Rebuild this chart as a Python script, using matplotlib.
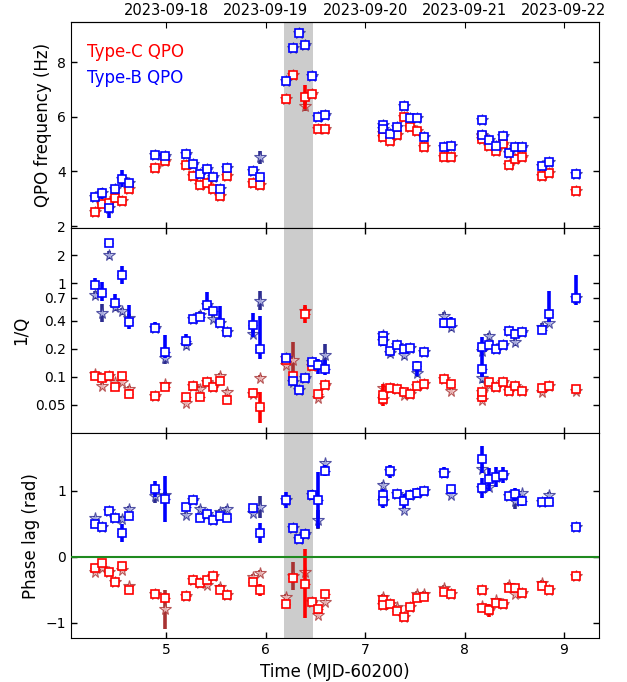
import numpy as np
import matplotlib
matplotlib.use("Agg")
import matplotlib.pyplot as plt

nan = np.nan

# Observation times (MJD-60200)
t = [4.28, 4.35, 4.42, 4.48, 4.55, 4.62,
     4.89, 4.99,
     5.20, 5.27, 5.34, 5.41, 5.47, 5.54, 5.61,
     5.87, 5.94,
     6.20, 6.27, 6.33, 6.40, 6.47, 6.53, 6.60,
     7.175, 7.18, 7.25, 7.32, 7.39, 7.45, 7.52, 7.59,
     7.79, 7.86,
     8.175, 8.18, 8.25, 8.32, 8.39, 8.45, 8.51, 8.58,
     8.78, 8.85,
     9.12]

# ---- QPO frequency (Hz) ----
freq_C = [2.53, 2.81, 2.86, 3.04, 2.92, 3.35,
          4.14, 4.37,
          4.24, 3.84, 3.50, 3.59, 3.37, 3.10, 3.84,
          3.57, 3.51,
          6.64, 7.54, nan, 6.72, 6.82, 5.55, 5.55,
          5.39, 5.25, 5.13, 5.33, 5.98, 5.64, 5.49, 4.90,
          4.51, 4.51,
          5.30, 5.19, 4.94, 4.76, 5.00, 4.24, 4.45, 4.54,
          3.84, 3.96,
          3.29]
freq_C_err = [0.08, 0.08, 0.08, 0.08, 0.08, 0.08,
              0.08, 0.08,
              0.08, 0.08, 0.08, 0.08, 0.08, 0.08, 0.08,
              0.08, 0.08,
              0.08, 0.08, nan, 0.45, 0.08, 0.08, 0.08,
              0.08, 0.08, 0.08, 0.08, 0.08, 0.08, 0.08, 0.08,
              0.08, 0.08,
              0.08, 0.08, 0.08, 0.08, 0.08, 0.08, 0.08, 0.08,
              0.08, 0.08,
              0.08]
freq_C_star = [2.53, 2.81, 2.86, 3.04, 2.92, 3.35,
               4.14, 4.37,
               4.24, 3.84, 3.50, 3.59, 3.37, 3.10, 3.84,
               3.57, 3.51,
               6.64, 7.54, nan, 6.41, 6.82, 5.55, 5.55,
               5.39, 5.25, 5.13, 5.33, 5.98, 5.64, 5.49, 4.90,
               4.51, 4.51,
               5.30, 5.19, 4.94, 4.76, 5.00, 4.24, 4.45, 4.54,
               3.84, 3.96,
               3.29]
freq_C_star_err = [0.08, 0.08, 0.08, 0.08, 0.08, 0.08,
                   0.08, 0.08,
                   0.08, 0.08, 0.08, 0.08, 0.08, 0.08, 0.08,
                   0.08, 0.08,
                   0.08, 0.08, nan, 0.2, 0.08, 0.08, 0.08,
                   0.08, 0.08, 0.08, 0.08, 0.08, 0.08, 0.08, 0.08,
                   0.08, 0.08,
                   0.08, 0.08, 0.08, 0.08, 0.08, 0.08, 0.08, 0.08,
                   0.08, 0.08,
                   0.08]
freq_B = [3.08, 3.20, 2.65, 3.37, 3.74, 3.57,
          4.59, 4.57,
          4.63, 4.27, 3.90, 4.08, 3.81, 3.37, 4.12,
          4.02, 3.78,
          7.31, 8.53, 9.08, 8.62, 7.49, 5.98, 6.07,
          5.70, 5.55, 5.37, 5.62, 6.39, 5.95, 5.96, 5.27,
          4.88, 4.94,
          5.88, 5.35, 5.16, 4.94, 5.31, 4.66, 4.90, 4.88,
          4.21, 4.33,
          3.90]
freq_B_err = [0.08, 0.20, 0.35, 0.08, 0.30, 0.08,
              0.08, 0.08,
              0.08, 0.08, 0.08, 0.08, 0.08, 0.08, 0.08,
              0.08, 0.08,
              0.08, 0.08, 0.08, 0.08, 0.08, 0.08, 0.08,
              0.08, 0.08, 0.08, 0.08, 0.08, 0.08, 0.08, 0.08,
              0.08, 0.08,
              0.08, 0.08, 0.08, 0.08, 0.08, 0.08, 0.08, 0.08,
              0.08, 0.08,
              0.08]
freq_B_star = [3.08, 3.20, 2.65, 3.37, 3.74, 3.57,
               4.59, 4.57,
               4.63, 4.27, 3.90, 4.08, 3.81, 3.37, 4.12,
               4.02, 4.51,
               7.31, 8.53, 9.08, 8.62, 7.49, 5.98, 6.07,
               5.70, 5.55, 5.37, 5.62, 6.39, 5.95, 5.96, 5.27,
               4.88, 4.94,
               5.88, 5.35, 5.16, 4.94, 5.31, 4.66, 4.90, 4.88,
               4.21, 4.33,
               3.90]
freq_B_star_err = [0.08, 0.08, 0.08, 0.08, 0.08, 0.08,
                   0.08, 0.08,
                   0.08, 0.08, 0.08, 0.08, 0.08, 0.08, 0.08,
                   0.08, 0.25,
                   0.08, 0.08, 0.08, 0.08, 0.08, 0.08, 0.08,
                   0.08, 0.08, 0.08, 0.08, 0.08, 0.08, 0.08, 0.08,
                   0.08, 0.08,
                   0.08, 0.08, 0.08, 0.08, 0.08, 0.08, 0.08, 0.08,
                   0.08, 0.08,
                   0.08]

# ---- 1/Q (errors in dex) ----
invQ_C = [0.102, 0.098, 0.103, 0.077, 0.102, 0.066,
          0.062, 0.077,
          0.061, 0.080, 0.060, 0.087, 0.078, 0.090, 0.057,
          0.067, 0.047,
          0.150, 0.103, nan, 0.47, 0.130, 0.066, 0.081,
          0.058, 0.064, 0.075, 0.074, 0.069, 0.066, 0.080, 0.083,
          0.094, 0.083,
          0.060, 0.068, 0.087, 0.078, 0.088, 0.070, 0.080, 0.070,
          0.075, 0.080,
          0.074]
invQ_C_dex = [0.03, 0.03, 0.03, 0.03, 0.03, 0.05,
              0.03, 0.04,
              0.03, 0.03, 0.03, 0.03, 0.03, 0.03, 0.03,
              0.03, 0.17,
              0.03, 0.03, nan, 0.10, 0.03, 0.03, 0.03,
              0.03, 0.12, 0.03, 0.03, 0.03, 0.03, 0.03, 0.03,
              0.03, 0.03,
              0.05, 0.03, 0.03, 0.03, 0.03, 0.03, 0.03, 0.03,
              0.03, 0.03,
              0.03]
invQ_C_star = [0.107, 0.080, 0.103, 0.087, 0.088, 0.074,
               0.062, 0.083,
               0.053, 0.080, 0.074, 0.087, 0.078, 0.103, 0.069,
               0.066, 0.097,
               0.133, 0.150, nan, 0.50, 0.130, 0.059, 0.081,
               0.058, 0.075, 0.075, 0.074, 0.064, 0.066, 0.080, 0.083,
               0.094, 0.071,
               0.057, 0.068, 0.082, 0.078, 0.088, 0.070, 0.080, 0.070,
               0.068, 0.080,
               0.070]
invQ_C_star_dex = [0.03, 0.03, 0.03, 0.03, 0.03, 0.03,
                   0.03, 0.03,
                   0.03, 0.03, 0.03, 0.03, 0.03, 0.03, 0.03,
                   0.03, 0.03,
                   0.03, 0.20, nan, 0.05, 0.03, 0.03, 0.03,
                   0.03, 0.03, 0.03, 0.03, 0.03, 0.03, 0.03, 0.03,
                   0.03, 0.03,
                   0.03, 0.03, 0.03, 0.03, 0.03, 0.03, 0.03, 0.03,
                   0.03, 0.03,
                   0.03]
invQ_B = [0.96, 0.78, 2.73, 0.61, 1.23, 0.385,
          0.335, 0.185,
          0.24, 0.42, 0.44, 0.59, 0.50, 0.375, 0.30,
          0.36, 0.20,
          0.157, 0.090, 0.073, 0.098, 0.145, 0.133, 0.122,
          0.27, 0.24, 0.19, 0.22, 0.20, 0.204, 0.13, 0.184,
          0.375, 0.378,
          0.21, 0.12, 0.22, 0.20, 0.22, 0.31, 0.29, 0.30,
          0.32, 0.47,
          0.70]
invQ_B_up = [0.07, 0.12, 0.04, 0.10, 0.10, 0.18,
             0.06, 0.18,
             0.08, 0.04, 0.04, 0.14, 0.04, 0.18, 0.04,
             0.13, 0.35,
             0.04, 0.04, 0.04, 0.04, 0.04, 0.07, 0.09,
             0.05, 0.05, 0.04, 0.04, 0.04, 0.04, 0.05, 0.04,
             0.05, 0.06,
             0.10, 0.19, 0.04, 0.04, 0.04, 0.04, 0.04, 0.04,
             0.04, 0.25,
             0.24]
invQ_B_dn = [0.04, 0.08, 0.04, 0.04, 0.10, 0.07,
             0.05, 0.07,
             0.05, 0.04, 0.04, 0.06, 0.04, 0.03, 0.04,
             0.13, 0.11,
             0.04, 0.04, 0.04, 0.04, 0.04, 0.09, 0.07,
             0.05, 0.05, 0.04, 0.04, 0.04, 0.04, 0.11, 0.04,
             0.05, 0.06,
             0.06, 0.08, 0.04, 0.04, 0.04, 0.04, 0.04, 0.04,
             0.04, 0.09,
             0.08]
invQ_B_star = [0.75, 0.48, 2.00, 0.555, 0.50, 0.43,
               0.335, 0.160,
               0.217, 0.42, 0.46, 0.59, 0.42, 0.375, 0.30,
               0.29, 0.65,
               0.157, 0.087, 0.073, 0.098, 0.145, 0.133, 0.170,
               0.28, 0.24, 0.18, 0.22, 0.17, 0.204, 0.11, 0.184,
               0.45, 0.34,
               0.19, 0.097, 0.27, 0.20, 0.22, 0.31, 0.236, 0.30,
               0.34, 0.38,
               0.70]
invQ_B_star_dex = [0.04, 0.10, 0.04, 0.04, 0.04, 0.04,
                   0.04, 0.07,
                   0.04, 0.04, 0.04, 0.04, 0.04, 0.04, 0.04,
                   0.04, 0.10,
                   0.04, 0.04, 0.04, 0.04, 0.04, 0.04, 0.12,
                   0.04, 0.04, 0.04, 0.04, 0.04, 0.04, 0.04, 0.04,
                   0.04, 0.04,
                   0.04, 0.05, 0.04, 0.04, 0.04, 0.04, 0.04, 0.04,
                   0.04, 0.04,
                   0.04]

# ---- Phase lag (rad) ----
lag_C = [-0.18, -0.09, -0.24, -0.38, -0.14, -0.51,
         -0.57, -0.63,
         -0.60, -0.36, -0.40, -0.36, -0.30, -0.51, -0.58,
         -0.39, -0.51,
         -0.72, -0.32, nan, -0.41, -0.68, -0.80, -0.57,
         -0.66, -0.73, -0.71, -0.82, -0.92, -0.77, -0.63, -0.61,
         -0.53, -0.57,
         -0.51, -0.78, -0.81, -0.70, -0.72, -0.48, -0.47, -0.55,
         -0.44, -0.51,
         -0.29]
lag_C_err = [0.04, 0.04, 0.04, 0.04, 0.04, 0.04,
             0.04, 0.06,
             0.04, 0.04, 0.04, 0.04, 0.04, 0.04, 0.04,
             0.04, 0.09,
             0.06, 0.05, nan, 0.52, 0.06, 0.05, 0.04,
             0.04, 0.04, 0.04, 0.04, 0.04, 0.04, 0.04, 0.04,
             0.04, 0.04,
             0.04, 0.04, 0.10, 0.04, 0.04, 0.04, 0.04, 0.04,
             0.04, 0.04,
             0.04]
lag_C_star = [-0.23, -0.18, -0.24, -0.38, -0.20, -0.45,
              -0.57, -0.80,
              -0.60, -0.36, -0.40, -0.43, -0.30, -0.46, -0.58,
              -0.31, -0.25,
              -0.61, -0.29, nan, -0.24, -0.68, -0.88, -0.69,
              -0.61, -0.73, -0.71, -0.77, -0.92, -0.77, -0.56, -0.56,
              -0.47, -0.57,
              -0.51, -0.75, -0.81, -0.66, -0.72, -0.43, -0.56, -0.55,
              -0.40, -0.51,
              -0.29]
lag_C_star_err = [0.04, 0.04, 0.04, 0.04, 0.04, 0.04,
                  0.04, 0.30,
                  0.04, 0.04, 0.04, 0.04, 0.04, 0.04, 0.04,
                  0.04, 0.04,
                  0.04, 0.21, nan, 0.04, 0.04, 0.04, 0.04,
                  0.04, 0.04, 0.04, 0.04, 0.04, 0.04, 0.04, 0.04,
                  0.04, 0.04,
                  0.04, 0.04, 0.04, 0.04, 0.04, 0.04, 0.04, 0.04,
                  0.04, 0.04,
                  0.04]
lag_B = [0.49, 0.45, 0.69, 0.58, 0.36, 0.62,
         1.02, 0.87,
         0.75, 0.86, 0.58, 0.65, 0.56, 0.62, 0.58,
         0.73, 0.36,
         0.85, 0.44, 0.26, 0.34, 0.93, 0.86, 1.30,
         0.93, 0.84, 1.29, 0.95, 0.84, 0.93, 0.96, 0.99,
         1.27, 1.02,
         1.47, 1.04, 1.17, 1.20, 1.23, 0.92, 0.94, 0.84,
         0.83, 0.82,
         0.45]
lag_B_err = [0.04, 0.05, 0.04, 0.04, 0.14, 0.04,
             0.12, 0.35,
             0.05, 0.06, 0.04, 0.05, 0.05, 0.05, 0.04,
             0.07, 0.15,
             0.12, 0.04, 0.04, 0.04, 0.08, 0.42, 0.08,
             0.10, 0.10, 0.10, 0.05, 0.10, 0.08, 0.08, 0.06,
             0.08, 0.06,
             0.20, 0.15, 0.17, 0.15, 0.12, 0.06, 0.10, 0.08,
             0.05, 0.05,
             0.05]
lag_B_star = [0.58, 0.45, 0.69, 0.58, 0.57, 0.72,
              0.91, 0.93,
              0.63, 0.86, 0.72, 0.65, 0.56, 0.68, 0.72,
              0.66, 0.75,
              0.85, 0.44, 0.26, 0.34, 0.93, 0.56, 1.41,
              1.09, 0.84, 1.29, 0.95, 0.71, 0.93, 0.96, 0.99,
              1.27, 0.93,
              1.32, 1.04, 1.06, 1.20, 1.23, 0.92, 0.84, 0.96,
              0.83, 0.93,
              0.45]
lag_B_star_err = [0.04, 0.04, 0.04, 0.04, 0.04, 0.04,
                  0.10, 0.04,
                  0.04, 0.04, 0.04, 0.04, 0.04, 0.04, 0.04,
                  0.04, 0.17,
                  0.04, 0.04, 0.04, 0.04, 0.04, 0.15, 0.04,
                  0.04, 0.04, 0.04, 0.04, 0.04, 0.04, 0.04, 0.04,
                  0.04, 0.04,
                  0.04, 0.04, 0.04, 0.04, 0.04, 0.04, 0.12, 0.04,
                  0.04, 0.04,
                  0.04]

time_halfwidth = 0.045
band = (6.184, 6.473)
date_ticks = [5, 6, 7, 8, 9]
date_labels = ["2023-09-18", "2023-09-19", "2023-09-20", "2023-09-21", "2023-09-22"]
invq_ticks = [0.05, 0.1, 0.2, 0.4, 0.7, 1, 2]
invq_labels = ["0.05", "0.1", "0.2", "0.4", "0.7", "1", "2"]

RED, BLUE = "#ff0000", "#0000ff"
RED_STAR_E, RED_STAR_F = "#a83232", "#f5d0d0"
BLUE_STAR_E, BLUE_STAR_F = "#2c2c90", "#c4c8ee"

fig = plt.figure(figsize=(6.27, 6.82), dpi=100)
L, W = 71 / 627, 528 / 627
H = 0.3010
ax0 = fig.add_axes([L, 0.0641 + 2 * H, W, H])
ax1 = fig.add_axes([L, 0.0641 + H, W, H], sharex=ax0)
ax2 = fig.add_axes([L, 0.0641, W, H], sharex=ax0)

tt = np.array(t)


def to_arr(v):
    return np.array(v, dtype=float)


def draw(ax, ys, yerr_s, y, yerr, col, se, sf):
    # star (alternative) values, beneath
    ax.errorbar(tt, ys, yerr=yerr_s, fmt="none", ecolor=se, elinewidth=2.6, zorder=2)
    ax.plot(tt, ys, "*", ms=8.5, mfc=sf, mec=se, mew=0.8, zorder=2.2, alpha=0.8)
    # squares
    ax.errorbar(tt, y, yerr=yerr, fmt="none", ecolor=col, elinewidth=2.6, zorder=3)
    ax.errorbar(tt, y, xerr=time_halfwidth, fmt="none", ecolor=col, elinewidth=0.9, zorder=3)
    ax.plot(tt, y, "s", ms=6, mfc="white", mec=col, mew=1.2, zorder=3.5)


def dexerr(v, dn, up):
    v, dn, up = to_arr(v), to_arr(dn), to_arr(up)
    return [v - v * 10 ** (-dn), v * 10 ** up - v]


# Top panel
draw(ax0, freq_C_star, freq_C_star_err, freq_C, freq_C_err, RED, RED_STAR_E, RED_STAR_F)
draw(ax0, freq_B_star, freq_B_star_err, freq_B, freq_B_err, BLUE, BLUE_STAR_E, BLUE_STAR_F)
# Middle panel
draw(ax1, invQ_C_star, dexerr(invQ_C_star, invQ_C_star_dex, invQ_C_star_dex),
     invQ_C, dexerr(invQ_C, invQ_C_dex, invQ_C_dex), RED, RED_STAR_E, RED_STAR_F)
draw(ax1, invQ_B_star, dexerr(invQ_B_star, invQ_B_star_dex, invQ_B_star_dex),
     invQ_B, dexerr(invQ_B, invQ_B_dn, invQ_B_up), BLUE, BLUE_STAR_E, BLUE_STAR_F)
# Bottom panel
draw(ax2, lag_C_star, lag_C_star_err, lag_C, lag_C_err, RED, RED_STAR_E, RED_STAR_F)
draw(ax2, lag_B_star, lag_B_star_err, lag_B, lag_B_err, BLUE, BLUE_STAR_E, BLUE_STAR_F)
ax2.axhline(0, color="#1f8a1f", lw=1.5, zorder=4)

for ax in (ax0, ax1, ax2):
    ax.axvspan(band[0], band[1], color="#cccccc", lw=0, zorder=0)
    ax.tick_params(direction="in", which="both", top=True, right=True,
                   labelsize=10, length=4, width=1)

ax0.set_xlim(4.041, 9.353)
ax0.set_xticks(date_ticks)
ax0.set_ylim(1.94, 9.45)
ax0.set_yticks([2, 4, 6, 8])
ax0.tick_params(labelbottom=False, top=False)
ax0.set_ylabel("QPO frequency (Hz)", fontsize=12)
ax0.text(0.03, 0.857, "Type-C QPO", color=RED, fontsize=12, va="center",
         transform=ax0.transAxes)
ax0.text(0.03, 0.728, "Type-B QPO", color=BLUE, fontsize=12, va="center",
         transform=ax0.transAxes)
sec = ax0.secondary_xaxis("top")
sec.set_xticks(date_ticks)
sec.set_xticklabels(date_labels)
sec.tick_params(direction="in", labelsize=10.5, length=4)

ax1.set_yscale("log")
ax1.set_ylim(0.025, 3.94)
ax1.set_yticks(invq_ticks)
ax1.set_yticklabels(invq_labels)
ax1.yaxis.set_minor_locator(matplotlib.ticker.NullLocator())
ax1.tick_params(labelbottom=False)
ax1.set_ylabel("1/Q", fontsize=12)

ax2.set_ylim(-1.236, 1.87)
ax2.set_yticks([-1, 0, 1])
ax2.set_ylabel("Phase lag (rad)", fontsize=12)
ax2.set_xlabel("Time (MJD-60200)", fontsize=12)

fig.savefig("out.png", dpi=100)
